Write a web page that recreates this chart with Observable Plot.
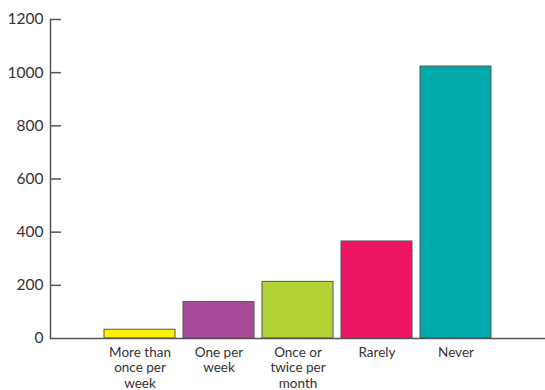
<!DOCTYPE html>
<html><head><meta charset="utf-8">
<script src="https://cdn.jsdelivr.net/npm/d3@7"></script>
<script src="https://cdn.jsdelivr.net/npm/@observablehq/plot@0.6"></script>
<style>body{margin:0;background:#fff}</style>
</head><body><div id="chart"></div>
<script>
const categories = ["More than\nonce per\nweek", "One per\nweek", "Once or\ntwice per\nmonth", "Rarely", "Never"];
const counts = [33, 137, 213, 365, 1023];
const colors = ["#fff200", "#aa4a9a", "#b2d235", "#ee1565", "#00a9aa"];
const yTicks = [0, 200, 400, 600, 800, 1000, 1200];

const data = categories.map((c, i) => ({category: c, count: counts[i]}));

const chart = Plot.plot({
  width: 545,
  height: 390,
  marginTop: 19,
  marginBottom: 52,
  marginLeft: 50,
  marginRight: 0,
  style: {fontFamily: "Lato, sans-serif", background: "#fff", color: "#333"},
  x: {domain: categories, paddingInner: 0.1, paddingOuter: 0.66},
  y: {domain: [0, 1200]},
  color: {domain: categories, range: colors},
  marks: [
    Plot.barY(data, {x: "category", y: "count", fill: "category", stroke: "#555", strokeWidth: 1}),
    Plot.axisY(yTicks, {tickSize: 0, tickPadding: 7, fontSize: 15.5, tickFormat: d => String(d), label: null}),
    Plot.axisY(yTicks.slice(1), {tickSize: -11, text: null, stroke: "#555", strokeWidth: 1.5, label: null}),
    Plot.frame({anchor: "left", stroke: "#555", strokeWidth: 1.5}),
    Plot.ruleY([0], {stroke: "#555", strokeWidth: 1.5}),
    Plot.axisX({tickSize: 0, tickPadding: 7, fontSize: 13.5, lineHeight: 1.15, label: null})
  ]
});
document.getElementById("chart").appendChild(chart);
</script>
</body></html>
